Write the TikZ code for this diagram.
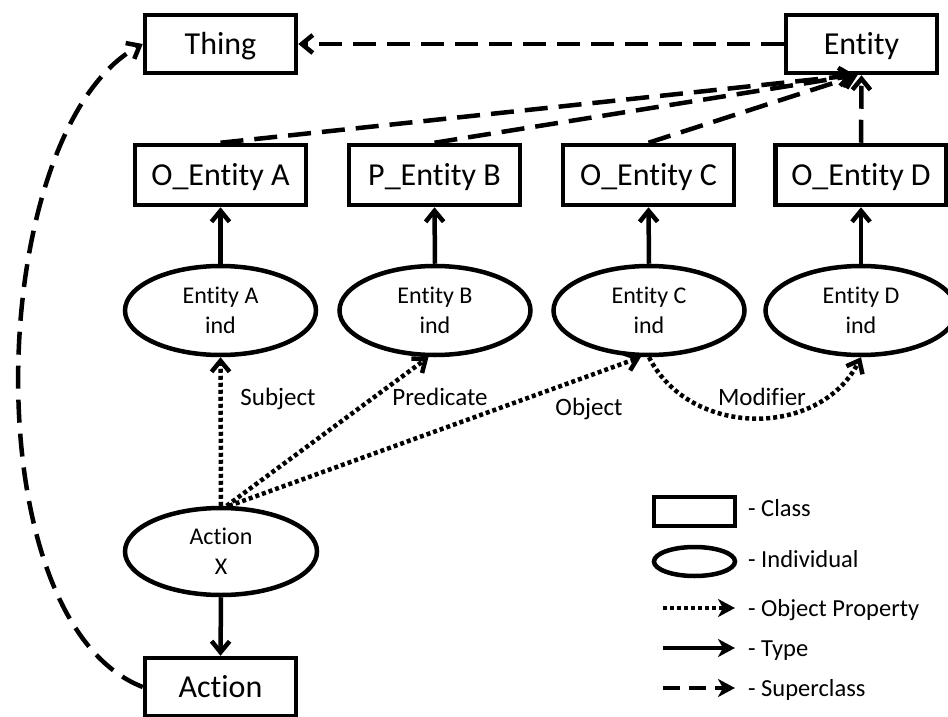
\documentclass[tikz,border=0pt]{standalone}
\usepackage{fontspec}
\setmainfont{Carlito}[Ligatures={NoCommon,NoContextual}]
\usetikzlibrary{arrows.meta,shapes.geometric}

\begin{document}
\begin{tikzpicture}[x=1pt,y=-1pt,
  classbox/.style={draw, line width=4.5pt, minimum width=151pt, minimum height=58pt,
    inner sep=0pt, text height=20.5pt, text depth=0pt, font=\fontsize{32}{38}\selectfont},
  wideclass/.style={classbox, minimum width=171pt, minimum height=60pt},
  indiv/.style={draw, ellipse, line width=4.5pt, minimum width=191pt, minimum height=89pt,
    inner sep=0pt, align=center, font=\fontsize{24}{30}\selectfont},
  barb/.style={-{Straight Barb[length=11pt,width=18pt]}},
  typearrow/.style={line width=4.5pt, barb},
  superarrow/.style={line width=4.5pt, dash pattern=on 23pt off 11pt, barb},
  proparrow/.style={line width=4.5pt, dash pattern=on 4pt off 3pt, barb},
  lbl/.style={anchor=base, inner sep=0pt, font=\fontsize{25}{30}\selectfont},
  legtext/.style={anchor=base west, inner sep=0pt, font=\fontsize{24.5}{30}\selectfont},
  legtip/.style={-{Stealth[length=17pt,width=18pt,inset=5pt]}},
]
\useasboundingbox (0,0) rectangle (948,717);

% classes
\node[classbox] (thing)  at (220.5,44) {Thing};
\node[classbox] (entity) at (861.5,44) {Entity};
\node[wideclass] (oa) at (220.5,175) {O\_Entity A};
\node[wideclass] (pb) at (434.5,175) {P\_Entity B};
\node[wideclass] (oc) at (648.5,175) {O\_Entity C};
\node[wideclass] (od) at (861,175)   {O\_Entity D};
\node[classbox] (action) at (220.5,687) {Action};

% individuals
\node[indiv] (ea) at (220.5,310.5) {Entity A\\ind};
\node[indiv] (eb) at (435,310.5)   {Entity B\\ind};
\node[indiv] (ec) at (649,310.5)   {Entity C\\ind};
\node[indiv] (ed) at (861,310.5)   {Entity D\\ind};
\node[indiv, minimum width=192pt, minimum height=87pt] (ax) at (221,551.5) {Action\\X};

% superclass links
\draw[superarrow] (entity.west) -- (thing.east);
\draw[superarrow] (oa.north) -- ([xshift=-8pt]entity.south);
\draw[superarrow] (pb.north) -- ([xshift=-6pt]entity.south);
\draw[superarrow] (oc.north) -- ([xshift=-4pt]entity.south);
\draw[superarrow] (od.north) -- (entity.south);
\draw[superarrow] (action.west) .. controls (-30,620) and (-15,130) .. (thing.west);

% type links
\draw[typearrow] (ea.north) -- (oa.south);
\draw[typearrow] (eb.north) -- (pb.south);
\draw[typearrow] (ec.north) -- (oc.south);
\draw[typearrow] (ed.north) -- (od.south);
\draw[typearrow] (ax.south) -- (action.north);

% object properties
\draw[proparrow] (ax.north) -- (ea.south);
\draw[proparrow] (ax.83) -- (eb.262);
\draw[proparrow] (ax.80) -- (ec.260);
\draw[proparrow] (ec.south) .. controls +(41,81) and +(-41,81) .. (ed.south);

\node[lbl] (lsubj) at (278,405) {Subject};
\node[lbl] (lpred) at (440,405) {Predicate};
\node[lbl] (lobj)  at (589,415) {Object};
\node[lbl] (lmod)  at (762,405) {Modifier};

% legend
\node[draw, line width=4.5pt, minimum width=81pt, minimum height=29pt, inner sep=0pt]
  (legclass) at (694.5,511.5) {};
\node[draw, ellipse, line width=4.5pt, minimum width=81pt, minimum height=29pt, inner sep=0pt]
  (legind) at (694.5,561.5) {};
\coordinate (lp1) at (663,608);  \coordinate (lp2) at (735,608);
\coordinate (lt1) at (663,648);  \coordinate (lt2) at (735,648);
\coordinate (ls1) at (663,688);  \coordinate (ls2) at (735,688);
\draw[line width=4.5pt, dash pattern=on 4pt off 3pt, legtip] (lp1) -- (lp2);
\draw[line width=4.5pt, legtip] (lt1) -- (lt2);
\draw[line width=4.5pt, dash pattern=on 17pt off 9pt, legtip] (ls1) -- (ls2);

\node[legtext] (tclass) at (748,516) {- Class};
\node[legtext] (tind)   at (748,567) {- Individual};
\node[legtext] (tprop)  at (748,616) {- Object Property};
\node[legtext] (ttype)  at (748,656) {- Type};
\node[legtext] (tsup)   at (748,696) {- Superclass};
\end{tikzpicture}
\end{document}
